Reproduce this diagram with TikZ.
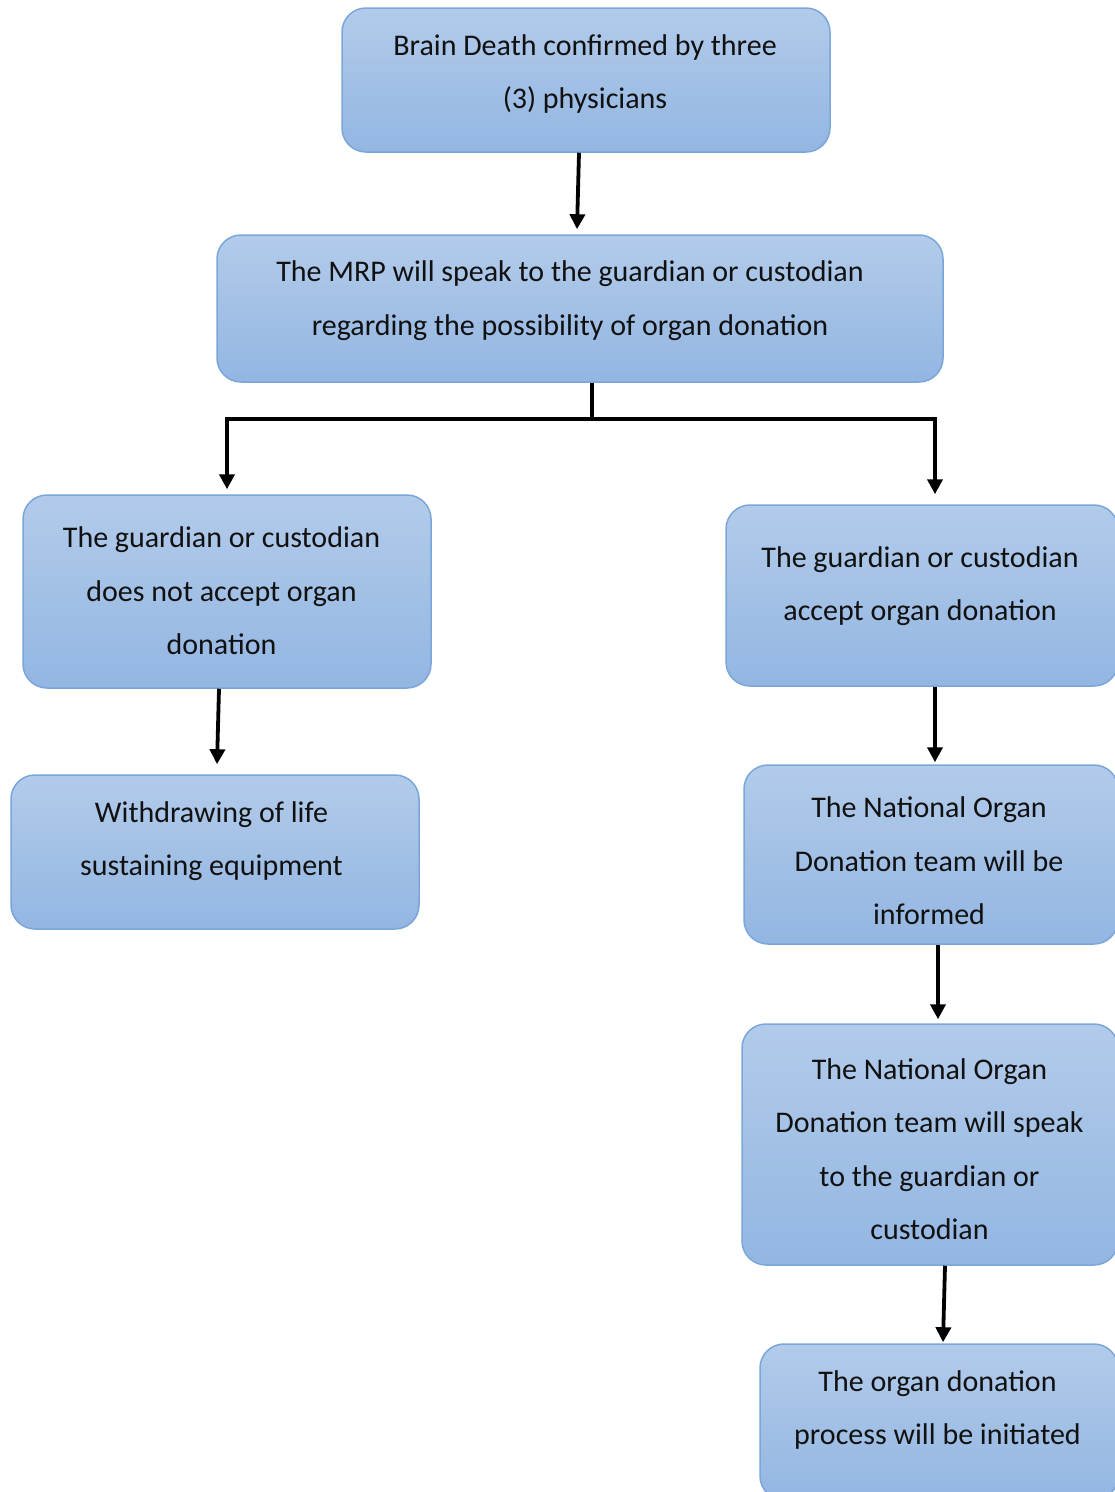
\documentclass[tikz,border=0pt]{standalone}
\usepackage{fontspec}
\setmainfont{Carlito}
\usetikzlibrary{arrows.meta}
\definecolor{boxtop}{HTML}{B2CBEA}
\definecolor{boxbot}{HTML}{93B6E2}
\definecolor{boxedge}{HTML}{7AA6DA}
\definecolor{txtcol}{HTML}{111111}
\tikzset{
  flowbox/.style={draw=boxedge, line width=1.5pt, rounded corners=24pt,
    top color=boxtop, bottom color=boxbot, inner sep=0pt},
  flowtext/.style={align=center, inner sep=0pt, text=txtcol,
    font=\fontsize{30}{53.5}\selectfont},
  conn/.style={line width=3.8pt, black},
  arr/.style={conn, -{Triangle[length=15pt,width=15pt]}}
}
\begin{document}
\begin{tikzpicture}[x=1pt,y=-1pt]
\useasboundingbox (0,0) rectangle (1115,1492);
\clip (0,0) rectangle (1115,1492);
\fill[white] (0,0) rectangle (1115,1492);
% boxes
\node[flowbox, minimum width=488pt, minimum height=144pt] (b1) at (586,80) {};
\node[flowbox, minimum width=726pt, minimum height=147pt] (b2) at (580,308.5) {};
\node[flowbox, minimum width=408pt, minimum height=193pt] (b3) at (227,591.5) {};
\node[flowbox, minimum width=408pt, minimum height=154pt] (b4) at (215,852) {};
\node[flowbox, minimum width=392pt, minimum height=181pt] (b5) at (922,595.5) {};
\node[flowbox, minimum width=374pt, minimum height=179pt] (b6) at (931,854.5) {};
\node[flowbox, minimum width=376pt, minimum height=241pt] (b7) at (930,1144.5) {};
\node[flowbox, minimum width=358pt, minimum height=156pt] (b8) at (939,1422) {};
% texts
\node[flowtext] (t1) at (585,74) {Brain Death confirmed by three\\(3) physicians};
\node[flowtext] (t2) at (570,300.5) {The MRP will speak to the guardian or custodian\\regarding the possibility of organ donation};
\node[flowtext] (t3) at (221.5,591) {The guardian or custodian\\does not accept organ\\donation};
\node[flowtext] (t4) at (211.5,841) {Withdrawing of life\\sustaining equipment};
\node[flowtext] (t5) at (920,586) {The guardian or custodian\\accept organ donation};
\node[flowtext] (t6) at (929,861) {The National Organ\\Donation team will be\\informed};
\node[flowtext] (t7) at (929.5,1149) {The National Organ\\Donation team will speak\\to the guardian or\\custodian};
\node[flowtext] (t8) at (937.5,1410) {The organ donation\\process will be initiated};
% connectors
\draw[arr] ([xshift=-7pt]b1.south) -- ([xshift=-3pt,yshift=5pt]b2.north);
\draw[conn] ([xshift=12pt]b2.south) -- ++(0,36) coordinate (j);
\draw[arr] ([xshift=1.9pt]j) -| ([yshift=5pt]b3.north);
\draw[arr] ([xshift=-1.9pt]j) -| ([xshift=13pt,yshift=10pt]b5.north);
\draw[arr] ([xshift=-8pt]b3.south) -- ([xshift=2pt,yshift=10pt]b4.north);
\draw[arr] ([xshift=13pt]b5.south) -- ([xshift=4pt,yshift=2pt]b6.north);
\draw[arr] ([xshift=7pt]b6.south) -- ([xshift=8pt,yshift=4pt]b7.north);
\draw[arr] ([xshift=15pt]b7.south) -- ([xshift=4pt,yshift=1pt]b8.north);
\end{tikzpicture}
\end{document}
